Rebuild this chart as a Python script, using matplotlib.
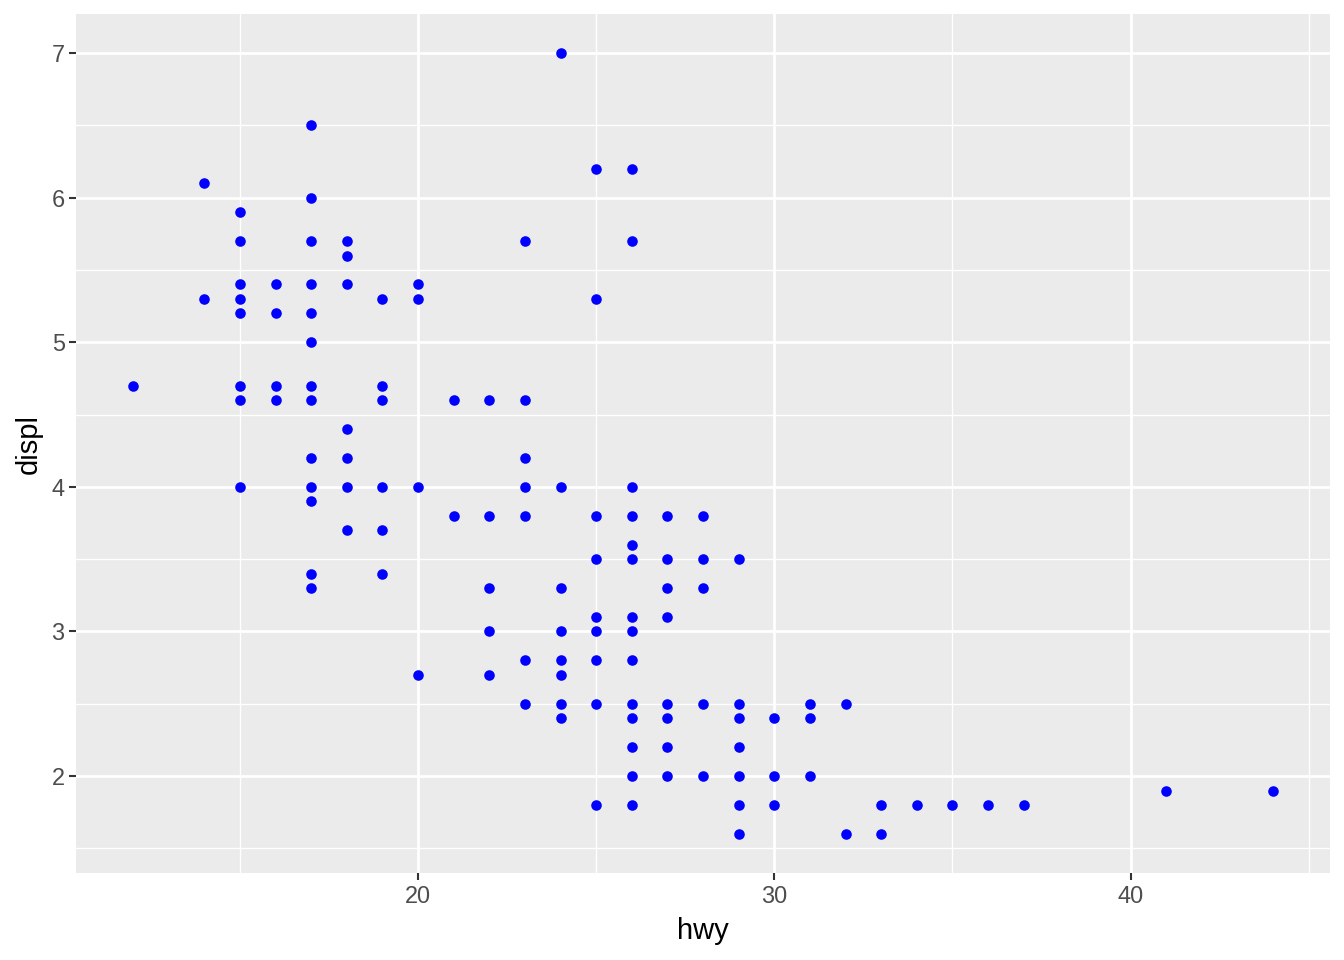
import numpy as np
import matplotlib.pyplot as plt

plt.rcParams['font.family'] = ['Liberation Sans', 'DejaVu Sans']

# distinct (hwy, displ) pairs, grouped by hwy
hwy_levels = [12, 14, 15, 16, 17, 18, 19, 20, 21, 22, 23, 24, 25, 26,
              27, 28, 29, 30, 31, 32, 33, 34, 35, 36, 37, 41, 44]
displ_by_hwy = [
    [4.7],
    [6.1, 5.3],
    [5.9, 5.7, 5.4, 5.3, 5.2, 4.7, 4.6, 4.0],
    [5.4, 5.2, 4.7, 4.6],
    [6.5, 6.0, 5.7, 5.4, 5.2, 5.0, 4.7, 4.6, 4.2, 4.0, 3.9, 3.4, 3.3],
    [5.7, 5.6, 5.4, 4.4, 4.2, 4.0, 3.7],
    [5.3, 4.7, 4.6, 4.0, 3.7, 3.4],
    [5.4, 5.3, 4.0, 2.7],
    [4.6, 3.8],
    [4.6, 3.8, 3.3, 3.0, 2.7],
    [5.7, 4.6, 4.2, 4.0, 3.8, 2.8, 2.5],
    [7.0, 4.0, 3.3, 3.0, 2.8, 2.7, 2.5, 2.4],
    [6.2, 5.3, 3.8, 3.5, 3.1, 3.0, 2.8, 2.5, 1.8],
    [6.2, 5.7, 4.0, 3.8, 3.6, 3.5, 3.1, 3.0, 2.8, 2.5, 2.4, 2.2, 2.0, 1.8],
    [3.8, 3.5, 3.3, 3.1, 2.5, 2.4, 2.2, 2.0],
    [3.8, 3.5, 3.3, 2.5, 2.0],
    [3.5, 2.5, 2.4, 2.2, 2.0, 1.8, 1.6],
    [2.4, 2.0, 1.8],
    [2.5, 2.4, 2.0],
    [2.5, 1.6],
    [1.8, 1.6],
    [1.8],
    [1.8],
    [1.8],
    [1.8],
    [1.9],
    [1.9],
]

hwy = np.concatenate([[h] * len(d) for h, d in zip(hwy_levels, displ_by_hwy)])
displ = np.concatenate(displ_by_hwy)

fig = plt.figure(figsize=(13.44, 9.6), dpi=100)
ax = fig.add_axes([76 / 1344, 1 - 873 / 960, (1330 - 76) / 1344, (873 - 14) / 960])
ax.set_facecolor('#EBEBEB')
for s in ax.spines.values():
    s.set_visible(False)

xlo, xhi = hwy.min(), hwy.max()
ylo, yhi = displ.min(), displ.max()
ax.set_xlim(xlo - 0.05 * (xhi - xlo), xhi + 0.05 * (xhi - xlo))
ax.set_ylim(ylo - 0.05 * (yhi - ylo), yhi + 0.05 * (yhi - ylo))

ax.set_xticks([20, 30, 40])
ax.set_yticks([2, 3, 4, 5, 6, 7])
ax.set_xticks([15, 25, 35, 45], minor=True)
ax.set_yticks([1.5, 2.5, 3.5, 4.5, 5.5, 6.5], minor=True)
ax.grid(True, which='major', color='white', linewidth=2.0)
ax.grid(True, which='minor', color='white', linewidth=1.0)
ax.set_axisbelow(True)
ax.tick_params(which='major', length=5.2, width=1.5, color='#333333',
               labelcolor='#4D4D4D', labelsize=16.9)
ax.tick_params(axis='x', which='major', pad=3.5)
ax.tick_params(axis='y', which='major', pad=3)
ax.tick_params(which='minor', length=0)

ax.scatter(hwy, displ, s=58, color='#0000FF', linewidths=0, zorder=3)

ax.set_xlabel('hwy', fontsize=21, color='black', labelpad=6.5)
ax.set_ylabel('displ', fontsize=21, color='black', labelpad=6)

fig.savefig('out.png', dpi=100)
